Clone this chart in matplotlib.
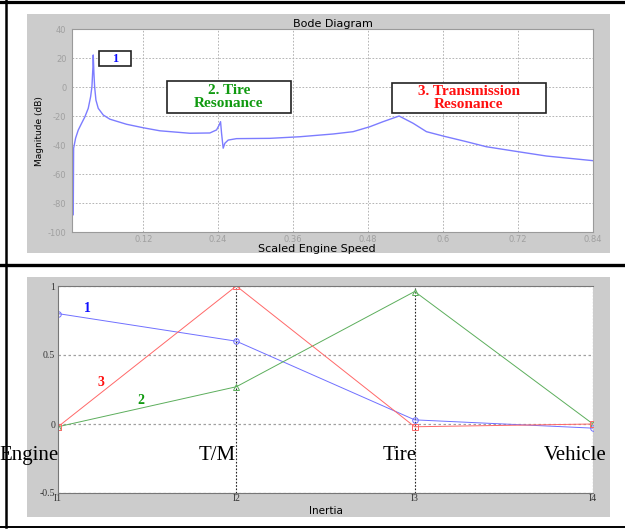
import matplotlib
matplotlib.use("Agg")
import matplotlib.pyplot as plt
from matplotlib.patches import Rectangle
from matplotlib.lines import Line2D

plt.rcParams['axes.unicode_minus'] = False

# --- Datos: diagrama de Bode ---
velocidad = [0.006, 0.008, 0.0086, 0.0118, 0.016, 0.0214, 0.0267, 0.032, 0.0358,
             0.0379, 0.0395, 0.040, 0.0411, 0.0422, 0.0443, 0.048, 0.056, 0.0667,
             0.0934, 0.12, 0.1467, 0.1947, 0.2267, 0.2374, 0.2416, 0.2438, 0.2454,
             0.248, 0.2507, 0.256, 0.2694, 0.3227, 0.3707, 0.424, 0.456, 0.4827,
             0.504, 0.5296, 0.552, 0.5734, 0.60, 0.6374, 0.6694, 0.72, 0.7654, 0.84]
magnitud_db = [-36, -88, -42, -35, -29.5, -24.8, -20.3, -14.5, -6.5,
               0.4, 14, 22.3, 9.7, 0.4, -8.8, -14.5, -19.1, -22,
               -25.5, -27.9, -30, -31.7, -31.5, -29.4, -26, -23.7, -31.7,
               -42, -38.6, -36.4, -35.4, -35.2, -34.1, -32.2, -30.6, -27.2,
               -23.7, -19.8, -24.8, -30.6, -33.6, -37.5, -41, -44.4, -47.4, -50.6]
ticks_vel = [0.12, 0.24, 0.36, 0.48, 0.60, 0.72, 0.84]
ticks_db = [-100, -80, -60, -40, -20, 0, 20, 40]

# --- Datos: formas modales ---
inercias = [1, 2, 3, 4]
etiquetas_inercia = ["I1", "I2", "I3", "I4"]
modo1 = [0.80, 0.60, 0.03, -0.03]
modo2 = [-0.02, 0.27, 0.96, 0.00]
modo3 = [-0.02, 1.00, -0.02, 0.00]
componentes = ["Engine", "T/M", "Tire", "Vehicle"]

fig = plt.figure(figsize=(6.25, 5.29), dpi=100)
W, H = 625.0, 529.0

def fx(px):
    return px / W

def fy(py):
    return 1 - py / H

# fondos grises de cada panel
gris = "#cccccc"
fig.patches.append(Rectangle((fx(27), fy(253)), fx(583), 239 / H, transform=fig.transFigure,
                             facecolor=gris, edgecolor="none", zorder=-2))
fig.patches.append(Rectangle((fx(27), fy(517)), fx(583), 240 / H, transform=fig.transFigure,
                             facecolor=gris, edgecolor="none", zorder=-2))

# marcos negros
fig.add_artist(Line2D([0, 1], [fy(1.5), fy(1.5)], color="black", lw=2.3, transform=fig.transFigure))
fig.add_artist(Line2D([0, 1], [fy(264.5), fy(264.5)], color="black", lw=2.4, transform=fig.transFigure))
fig.add_artist(Line2D([0, 1], [fy(527), fy(527)], color="black", lw=1.4, transform=fig.transFigure))
fig.add_artist(Line2D([fx(6), fx(6)], [fy(527), 1], color="black", lw=1.8, transform=fig.transFigure))

# ---------------- Panel superior ----------------
ax1 = fig.add_axes([fx(72), fy(232.3), fx(521), 203 / H])
ax1.plot(velocidad, magnitud_db, color="#7c7cff", lw=1.0)
ax1.set_xlim(0.006, 0.84)
ax1.set_ylim(-100, 40)
ax1.set_xticks(ticks_vel)
ax1.set_xticklabels(["0.12", "0.24", "0.36", "0.48", "0.6", "0.72", "0.84"])
ax1.set_yticks(ticks_db)
ax1.tick_params(axis="y", labelsize=6, colors="#a0a0a0", length=0, pad=4)
ax1.tick_params(axis="x", labelsize=6, colors="#a0a0a0", length=0, pad=2)
ax1.grid(True, color="#a8a8a8", linestyle=(0, (2, 2)), lw=0.6)
for s in ax1.spines.values():
    s.set_color("#9a9a9a")
    s.set_linewidth(0.8)
ax1.set_title("Bode Diagram", fontsize=8, pad=2)
ax1.set_ylabel("Magnitude (dB)", fontsize=6.5, labelpad=3)
ax1.set_xlabel("Scaled Engine Speed", fontsize=8)
ax1.xaxis.set_label_coords(0.47, -0.06)

# cajas de anotacion
cajas = [((0.0524, 0.819), 0.0603, 0.074, "1", "#1010ff"),
         ((0.1823, 0.589), 0.2375, 0.156, "2. Tire\nResonance", "#109a10"),
         ((0.6136, 0.588), 0.2962, 0.148, "3. Transmission\nResonance", "#ff1010")]
for (x0, y0), w, h, txt, col in cajas:
    ax1.add_patch(Rectangle((x0, y0), w, h, transform=ax1.transAxes, facecolor="white",
                            edgecolor="#222222", lw=1.2, zorder=5))
    ax1.text(x0 + w / 2, y0 + h / 2, txt, transform=ax1.transAxes, ha="center", va="center",
             fontsize=11 if txt != "1" else 9, color=col, fontweight="bold",
             family="Liberation Serif", linespacing=1.0, zorder=6)

# ---------------- Panel inferior ----------------
ax2 = fig.add_axes([fx(58), fy(493), fx(535), 207 / H])
ax2.plot(inercias, modo1, color="#7070ff", lw=0.7, marker="o", mfc="none", ms=4, mew=0.7)
ax2.plot(inercias, modo2, color="#5cae5c", lw=0.7, marker="^", mfc="none", ms=4, mew=0.7)
ax2.plot(inercias, modo3, color="#ff6868", lw=0.7, marker="s", mfc="none", ms=4, mew=0.7)
ax2.set_xlim(1, 4)
ax2.set_ylim(-0.5, 1)
ax2.set_xticks(inercias)
ax2.set_xticklabels(etiquetas_inercia)
ax2.set_yticks([-0.5, 0, 0.5, 1])
ax2.set_yticklabels(["-0.5", "0", "0.5", "1"])
for lab in ax2.get_xticklabels() + ax2.get_yticklabels():
    lab.set_family("Liberation Serif")
    lab.set_color("#333333")
    lab.set_fontsize(7)
ax2.tick_params(axis="x", length=0, pad=1)
ax2.tick_params(axis="y", length=0, pad=2)
ax2.yaxis.grid(True, color="#a0a0a0", linestyle=(0, (2, 2)), lw=0.9)
ax2.xaxis.grid(True, color="#222222", linestyle=(0, (1.5, 1.5)), lw=0.8)
ax2.get_xgridlines()[0].set_visible(False)
for s in ax2.spines.values():
    s.set_color("#777777")
    s.set_linewidth(0.8)
ax2.spines["right"].set_visible(False)
ax2.set_xlabel("Inertia", fontsize=7.5, labelpad=2)

# etiquetas de modo
ax2.text(1.163, 0.84, "1", color="#1010ff", fontsize=10, fontweight="bold",
         family="Liberation Serif", ha="center", va="center")
ax2.text(1.466, 0.167, "2", color="#109a10", fontsize=10, fontweight="bold",
         family="Liberation Serif", ha="center", va="center")
ax2.text(1.241, 0.30, "3", color="#ff1010", fontsize=10, fontweight="bold",
         family="Liberation Serif", ha="center", va="center")

# nombres de componentes
pos_comp = [0.837, 1.89, 2.918, 3.90]
for xp, nombre in zip(pos_comp, componentes):
    ax2.text(xp, -0.225, nombre, fontsize=15, family="Liberation Serif",
             ha="center", va="center", clip_on=False)

fig.savefig("out.png", dpi=100)
